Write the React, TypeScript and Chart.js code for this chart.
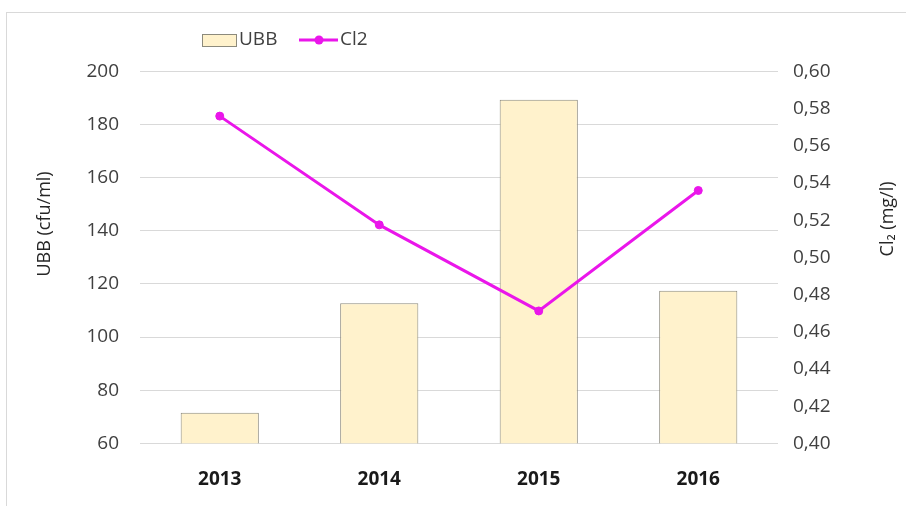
import React, { useEffect, useRef } from "react";
import { Chart, registerables } from "chart.js";

Chart.register(...registerables);

const years = ["2013", "2014", "2015", "2016"];
const ubbValues = [71.5, 112.7, 189.4, 117.4];
const cl2Values = [0.576, 0.5175, 0.4712, 0.536];
const leftTitle = "UBB (cfu/ml)";
const rightTitle = "Cl\u2082 (mg/l)";
const ubbLabel = "UBB";
const cl2Label = "Cl2";

const BAR_FILL = "#fff2cc";
const BAR_BORDER = "#8c8a7c";
const LINE_COLOR = "#ea16ea";
const FONT = "'Open Sans', 'Noto Sans', sans-serif";

const W = 906;
const H = 506;

const framePlugin = {
  id: "frame",
  beforeDraw(chart: any) {
    const ctx = chart.ctx;
    ctx.save();
    ctx.fillStyle = "#ffffff";
    ctx.fillRect(0, 0, W, H);
    ctx.strokeStyle = "#d9d9d9";
    ctx.lineWidth = 1;
    ctx.strokeRect(6.5, 12.5, W, H);
    ctx.restore();
  },
};

const decorPlugin = {
  id: "decor",
  afterDraw(chart: any) {
    const ctx = chart.ctx;
    const area = chart.chartArea;
    ctx.save();
    // Legend
    const ly = 40;
    ctx.fillStyle = BAR_FILL;
    ctx.strokeStyle = BAR_BORDER;
    ctx.lineWidth = 1;
    ctx.fillRect(202, 34, 34, 12);
    ctx.strokeRect(202.5, 34.5, 34, 12);
    ctx.font = `19px ${FONT}`;
    ctx.fillStyle = "#404040";
    ctx.textBaseline = "middle";
    ctx.textAlign = "left";
    ctx.fillText(ubbLabel, 239, ly);
    ctx.strokeStyle = LINE_COLOR;
    ctx.lineWidth = 3;
    ctx.beginPath();
    ctx.moveTo(299, ly);
    ctx.lineTo(338, ly);
    ctx.stroke();
    ctx.fillStyle = LINE_COLOR;
    ctx.beginPath();
    ctx.arc(319, ly, 4.5, 0, Math.PI * 2);
    ctx.fill();
    ctx.fillStyle = "#404040";
    ctx.fillText(cl2Label, 340, ly);

    // Axis titles
    const cy = area.top + (area.bottom - area.top) * 0.41;
    ctx.font = `18px ${FONT}`;
    ctx.fillStyle = "#262626";
    ctx.textAlign = "center";
    ctx.save();
    ctx.translate(45, cy);
    ctx.rotate(-Math.PI / 2);
    ctx.fillText(leftTitle, 0, 0);
    ctx.restore();
    ctx.save();
    ctx.translate(888, cy - 5);
    ctx.rotate(-Math.PI / 2);
    ctx.fillText(rightTitle, 0, 0);
    ctx.restore();
    ctx.restore();
  },
};

export default function App() {
  const ref = useRef<HTMLCanvasElement | null>(null);

  useEffect(() => {
    if (!ref.current) return;
    const chart = new Chart(ref.current, {
      type: "bar",
      data: {
        labels: years,
        datasets: [
          {
            type: "line",
            label: cl2Label,
            data: cl2Values,
            yAxisID: "y1",
            borderColor: LINE_COLOR,
            backgroundColor: LINE_COLOR,
            borderWidth: 3,
            pointRadius: 4,
            pointBorderWidth: 1,
            pointBackgroundColor: LINE_COLOR,
            pointBorderColor: LINE_COLOR,
            tension: 0,
            order: 0,
          } as any,
          {
            type: "bar",
            label: ubbLabel,
            data: ubbValues,
            yAxisID: "y",
            backgroundColor: BAR_FILL,
            borderColor: BAR_BORDER,
            borderWidth: 1,
            categoryPercentage: 1,
            barPercentage: 0.49,
            order: 1,
          } as any,
        ],
      },
      options: {
        responsive: false,
        animation: false,
        layout: { padding: { top: 71.5, left: 0, right: 0, bottom: 0 } },
        plugins: {
          legend: { display: false },
          tooltip: { enabled: false },
        },
        scales: {
          x: {
            grid: { display: false },
            border: { display: false },
            ticks: {
              color: "#1a1a1a",
              font: { family: FONT, size: 19, weight: "bold" },
              padding: 17,
            },
            afterFit: (s: any) => {
              s.height = 62.7;
            },
          },
          y: {
            position: "left",
            min: 60,
            max: 200,
            ticks: {
              stepSize: 20,
              color: "#404040",
              font: { family: FONT, size: 19 },
              padding: 21,
            },
            grid: { color: "#d9d9d9", drawTicks: false, lineWidth: 1 },
            border: { display: false },
            afterFit: (s: any) => {
              s.width = 140;
            },
          },
          y1: {
            position: "right",
            min: 0.4,
            max: 0.6,
            ticks: {
              stepSize: 0.02,
              color: "#404040",
              font: { family: FONT, size: 19 },
              padding: 15,
              callback: (v: any) => Number(v).toFixed(2).replace(".", ","),
            },
            grid: { drawOnChartArea: false, drawTicks: false },
            border: { display: false },
            afterFit: (s: any) => {
              s.width = 128;
            },
          },
        },
      } as any,
      plugins: [framePlugin, decorPlugin],
    });
    return () => chart.destroy();
  }, []);

  return (
    <div style={{ position: "absolute", left: 0, top: 0, width: W, height: H }}>
      <canvas ref={ref} width={W} height={H} style={{ width: W, height: H, display: "block" }} />
    </div>
  );
}
